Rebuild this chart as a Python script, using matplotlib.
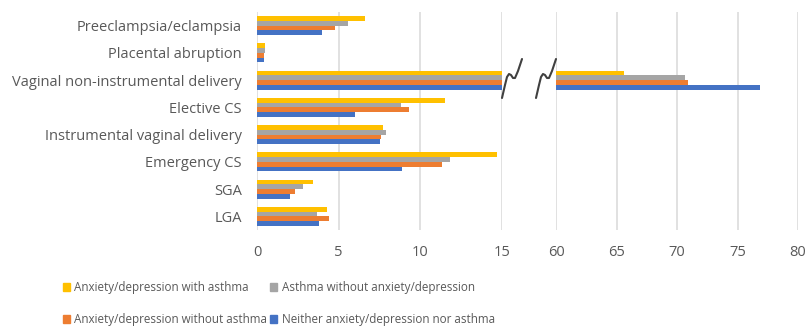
import numpy as np
import matplotlib.pyplot as plt
from matplotlib.lines import Line2D
from matplotlib.patches import Rectangle

plt.rcParams['font.family'] = ['Open Sans', 'DejaVu Sans']

categories = ['Preeclampsia/eclampsia', 'Placental abruption',
              'Vaginal non-instrumental delivery', 'Elective CS',
              'Instrumental vaginal delivery', 'Emergency CS', 'SGA', 'LGA']

series_names = ['Anxiety/depression with asthma',
                'Asthma without anxiety/depression',
                'Anxiety/depression without asthma',
                'Neither anxiety/depression nor asthma']

# percentages per category, one list per group
anx_with_asthma = [6.6, 0.5, 65.6, 11.5, 7.7, 14.7, 3.4, 4.3]
asthma_only = [5.6, 0.5, 70.7, 8.8, 7.9, 11.8, 2.8, 3.7]
anx_only = [4.8, 0.4, 70.9, 9.3, 7.6, 11.3, 2.3, 4.4]
neither = [4.0, 0.4, 76.9, 6.0, 7.5, 8.9, 2.0, 3.8]

colors = ['#FFC000', '#A5A5A5', '#ED7D31', '#4472C4']
txt = '#595959'
grid_c = '#D9D9D9'

values = [anx_with_asthma, asthma_only, anx_only, neither]
y = np.arange(len(categories))
h = 0.175

fig = plt.figure(figsize=(8.11, 3.28), dpi=100)
W, H = 811, 328


def px_axes(x0, x1, top, bottom):
    return fig.add_axes([x0 / W, (H - bottom) / H, (x1 - x0) / W, (bottom - top) / H])


ax1 = px_axes(257, 502, 12, 230)
ax2 = px_axes(556, 798, 12, 230)

for ax, lim, ticks in [(ax1, (0, 15), [0, 5, 10, 15]),
                       (ax2, (60, 80), [60, 65, 70, 75, 80])]:
    for k, vals in enumerate(values):
        ax.barh(y + (k - 1.5) * h, vals, height=h, color=colors[k], zorder=3)
    ax.set_xlim(*lim)
    ax.set_ylim(len(categories) - 0.5, -0.5)
    ax.set_xticks(ticks)
    for t in ticks:
        ax.axvline(t, color=grid_c, lw=1.1, zorder=1)
    for s in ax.spines.values():
        s.set_visible(False)
    ax.tick_params(axis='x', length=0, pad=11, labelsize=10.5, labelcolor=txt)
    ax.tick_params(axis='y', length=0)
    ax.set_yticks([])

ax1.set_yticks(y)
ax1.set_yticklabels(categories, fontsize=10.5, color=txt)
ax1.tick_params(axis='y', pad=11)

# axis break marks
squiggle = np.array([(502, 98), (505, 85), (507, 77), (509, 74), (511, 75),
                     (513, 78), (515, 78), (518, 71), (522, 59)], dtype=float)
for dx in (0, 34):
    xs = (squiggle[:, 0] + dx) / W
    ys = (H - squiggle[:, 1]) / H
    fig.add_artist(Line2D(xs, ys, color='#404040', lw=1.5, solid_capstyle='round'))

# legend: two rows, two columns (marker x, text x, row y in pixels from top)
legend_slots = [(63, 74, 287), (270, 282, 287), (63, 74, 319), (270, 282, 319)]
for k, (mx, tx, ry) in enumerate(legend_slots):
    fig.add_artist(Rectangle((mx / W, (H - ry - 4) / H), 7 / W, 8 / H,
                             color=colors[k], transform=fig.transFigure))
    fig.text(tx / W, (H - ry) / H, series_names[k], color=txt, fontsize=8.4,
             va='center', ha='left')

fig.savefig('out.png', dpi=100)
